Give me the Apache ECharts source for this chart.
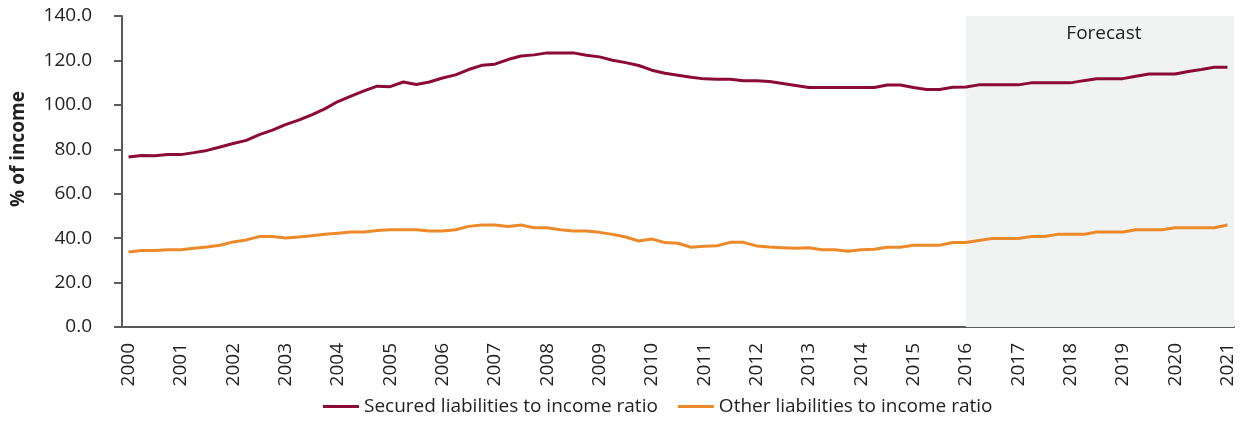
<!DOCTYPE html>
<html>
<head>
<meta charset="utf-8">
<script src="https://cdn.jsdelivr.net/npm/echarts@6/dist/echarts.min.js"></script>
<style>
html,body{margin:0;padding:0;background:#fff;}
#chart{width:1245px;height:423px;}
</style>
</head>
<body>
<div id="chart"></div>
<script>
// Tick labels (years) – data is quarterly, 2000Q1 .. 2021Q1
const years = ['2000','2001','2002','2003','2004','2005','2006','2007','2008','2009','2010',
  '2011','2012','2013','2014','2015','2016','2017','2018','2019','2020','2021'];
const quarters = [];
years.forEach(function (y) {
  for (let q = 1; q <= 4; q++) {
    if (y === '2021' && q > 1) break;
    quarters.push(y + 'Q' + q);
  }
});

const securedName = 'Secured liabilities to income ratio';
const otherName = 'Other liabilities to income ratio';

const securedRatio = [
  76.5, 77.2, 77.1, 77.6, 77.6, 78.5, 79.5, 81.0, 82.6, 84.0,
  86.6, 88.6, 91.1, 93.1, 95.5, 98.2, 101.5, 103.9, 106.3, 108.4,
  108.2, 110.3, 109.2, 110.3, 112.1, 113.5, 115.9, 117.8, 118.3, 120.4,
  122.0, 122.5, 123.4, 123.4, 123.4, 122.3, 121.6, 120.1, 119.0, 117.7,
  115.6, 114.2, 113.3, 112.4, 111.7, 111.5, 111.5, 110.9, 110.8, 110.5,
  109.6, 108.7, 107.8, 107.8, 107.8, 107.8, 107.8, 107.8, 108.9, 108.9,
  107.8, 106.9, 106.9, 107.9, 108.0, 109.0, 109.0, 109.0, 109.0, 109.9,
  109.9, 109.9, 109.9, 110.9, 111.8, 111.8, 111.8, 112.9, 113.9, 113.9,
  113.9, 115.0, 115.9, 116.9, 116.9
];

const otherRatio = [
  33.8, 34.4, 34.4, 34.8, 34.8, 35.4, 36.0, 36.8, 38.3, 39.2,
  40.7, 40.7, 40.1, 40.5, 41.1, 41.7, 42.2, 42.8, 42.8, 43.4,
  43.8, 43.8, 43.8, 43.2, 43.2, 43.8, 45.3, 45.9, 45.9, 45.2,
  45.9, 44.7, 44.7, 43.8, 43.2, 43.2, 42.6, 41.7, 40.5, 38.7,
  39.6, 38.0, 37.7, 35.9, 36.3, 36.6, 38.1, 38.1, 36.5, 36.0,
  35.7, 35.4, 35.7, 34.8, 34.8, 34.1, 34.8, 35.0, 35.9, 35.9,
  36.8, 36.8, 36.8, 38.0, 38.0, 38.9, 39.8, 39.8, 39.8, 40.7,
  40.7, 41.7, 41.7, 41.7, 42.8, 42.8, 42.8, 43.8, 43.8, 43.8,
  44.7, 44.7, 44.7, 44.7, 45.9
];

// Forecast span, in quarter-index units (centre of 2016Q1 to end of axis)
const forecastStart = 64.5;
const forecastEnd = 85;

const FONT = 'Open Sans';
const axisColor = '#5a5a5a';
const textColor = '#222222';

const chart = echarts.init(document.getElementById('chart'), null, {renderer: 'canvas'});
chart.setOption({
  animation: false,
  textStyle: {fontFamily: FONT},
  grid: {left: 122, right: 11, top: 16, bottom: 96},
  legend: {
    left: 318, bottom: 2,
    itemWidth: 36, itemHeight: 3, itemGap: 20,
    icon: 'rect',
    textStyle: {fontFamily: FONT, fontSize: 19, color: textColor},
    data: [securedName, otherName]
  },
  xAxis: [{
    type: 'category',
    data: quarters,
    boundaryGap: true,
    axisLine: {lineStyle: {color: axisColor, width: 2}},
    axisTick: {
      interval: function (i) { return i % 4 === 0; },
      length: 5,
      lineStyle: {color: axisColor, width: 2}
    },
    axisLabel: {
      interval: function (i) { return i % 4 === 0; },
      formatter: function (v) { return v.slice(0, 4); },
      rotate: 90,
      margin: 16,
      fontSize: 19,
      color: textColor,
      fontFamily: FONT
    },
    splitLine: {show: false}
  }, {
    type: 'value',
    min: 0, max: forecastEnd,
    show: false
  }],
  yAxis: {
    type: 'value',
    min: 0, max: 140, interval: 20,
    name: '% of income',
    nameLocation: 'middle',
    nameGap: 94,
    nameTextStyle: {fontFamily: FONT, fontSize: 19, fontWeight: 'bold', color: textColor, padding: [0, 0, 0, 45]},
    axisLine: {show: true, lineStyle: {color: axisColor, width: 2}},
    axisTick: {show: true, length: 8, lineStyle: {color: axisColor, width: 2}},
    axisLabel: {
      formatter: function (v) { return v.toFixed(1); },
      margin: 30,
      fontSize: 19,
      color: textColor,
      fontFamily: FONT
    },
    splitLine: {show: false}
  },
  series: [{
    type: 'line',
    name: 'forecast-area',
    xAxisIndex: 1,
    z: 1,
    data: [],
    silent: true,
    markArea: {
      silent: true,
      itemStyle: {color: '#f1f2f2'},
      label: {show: true, position: 'insideTop', distance: 8, offset: [4, 0],
        fontFamily: FONT, fontSize: 19, color: textColor},
      data: [[{name: 'Forecast', xAxis: forecastStart}, {xAxis: forecastEnd}]]
    }
  }, {
    type: 'line',
    name: securedName,
    data: securedRatio,
    symbol: 'none',
    z: 3,
    lineStyle: {color: '#8c0a36', width: 3},
    itemStyle: {color: '#8c0a36'}
  }, {
    type: 'line',
    name: otherName,
    data: otherRatio,
    symbol: 'none',
    z: 3,
    lineStyle: {color: '#ec8a2a', width: 3},
    itemStyle: {color: '#ec8a2a'}
  }]
});
</script>
</body>
</html>
